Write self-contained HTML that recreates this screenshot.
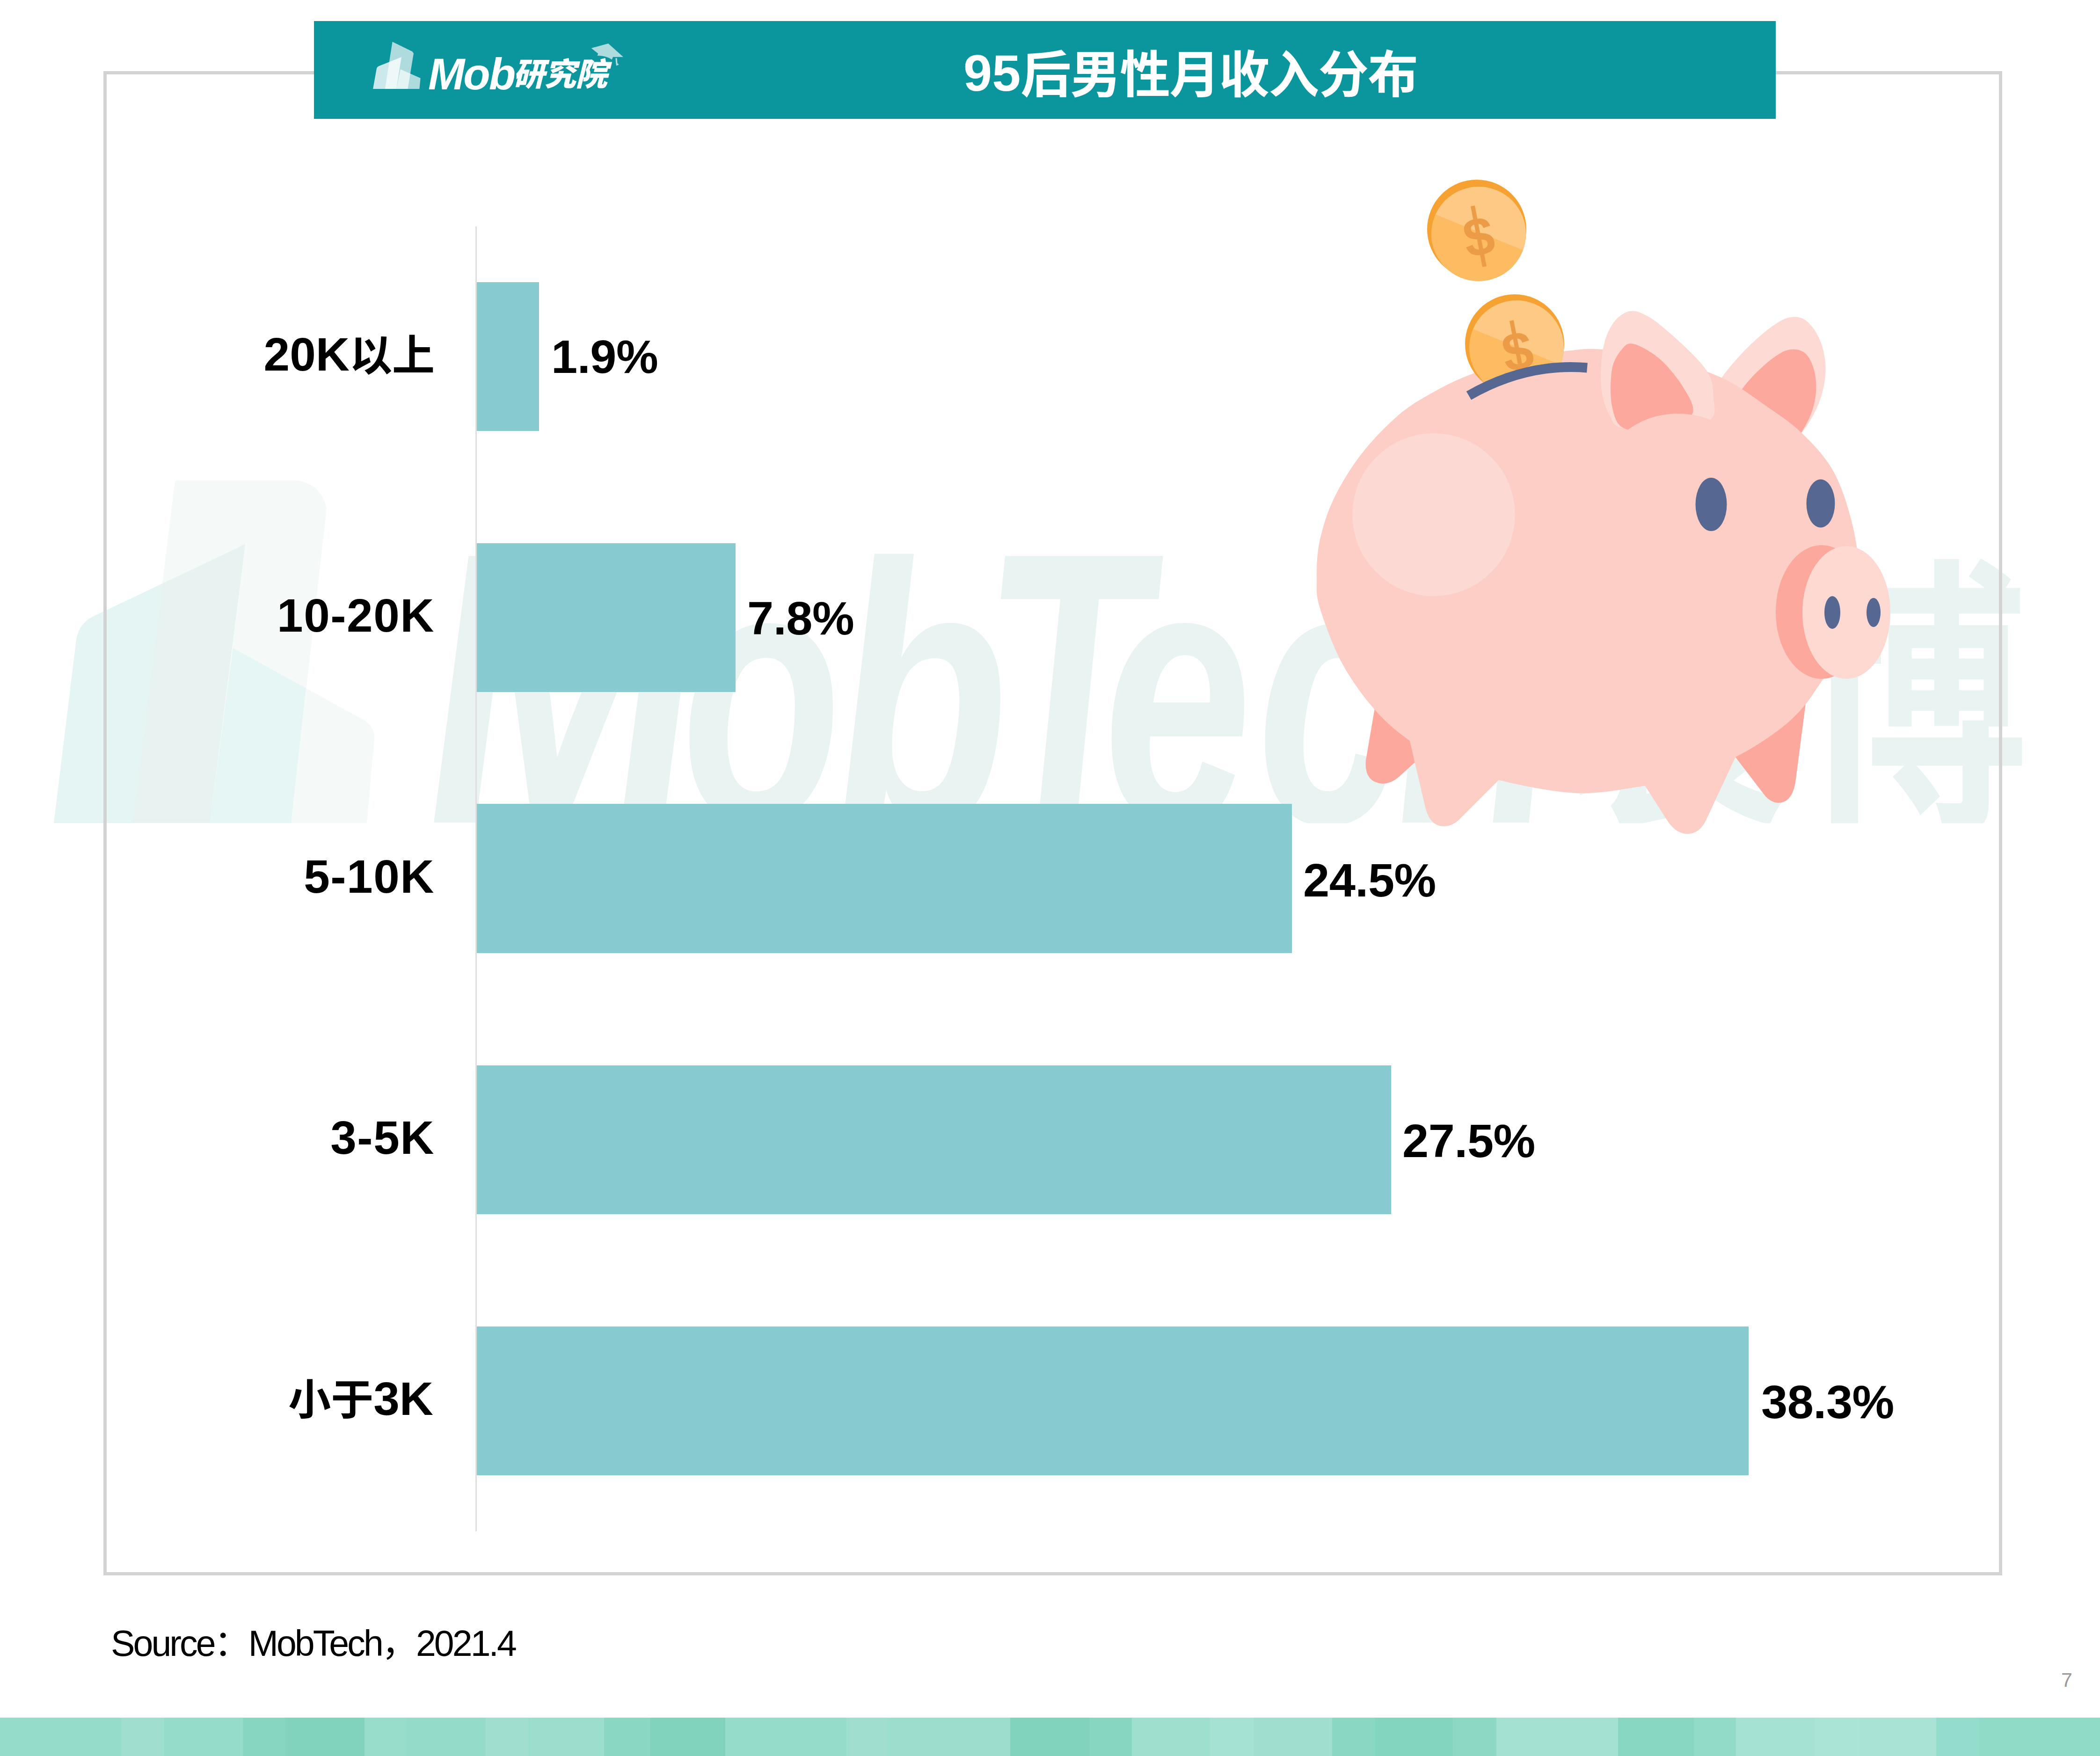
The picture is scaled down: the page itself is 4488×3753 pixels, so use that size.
<!DOCTYPE html>
<html lang="zh-CN">
<head>
<meta charset="utf-8">
<title>95后男性月收入分布</title>
<style>
html,body{margin:0;padding:0;background:#fff;}
body{width:4488px;height:3753px;}
#page{width:4488px;height:3753px;position:relative;overflow:hidden;background:#fff;font-family:"Liberation Sans","Noto Sans CJK SC",sans-serif;color:#000;}
.abs{position:absolute;}
svg{position:absolute;left:0;top:0;overflow:visible;}
#frame{left:221px;top:152px;width:4044px;height:3201px;border:7px solid #d2d2d2;}
#hdr{left:671px;top:45px;width:3124px;height:208.6px;background:#0a969c;}
#title{left:2059px;top:56px;height:208px;line-height:208px;font-size:108px;letter-spacing:-2px;font-weight:bold;color:#fff;white-space:nowrap;}
#title .n{font-size:110px;letter-spacing:0;position:relative;top:-4px;}
#axis{left:1016px;top:484px;width:3px;height:2789px;background:#dfdfdf;}
.bar{position:absolute;left:1019px;height:318px;background:#87cacf;}
.cat{position:absolute;right:3559px;white-space:nowrap;font-weight:bold;font-size:100px;line-height:100px;text-align:right;letter-spacing:1.5px;}
.cat .c{font-size:91px;}
.val{position:absolute;white-space:nowrap;font-weight:bold;font-size:101px;line-height:100px;letter-spacing:-0.5px;}
#src{left:237px;top:3467px;font-size:77px;line-height:90px;white-space:nowrap;letter-spacing:-3.9px;}
#pg{left:4405px;top:3566px;font-size:43px;line-height:48px;color:#9a9a9a;}
#band{left:0;top:3671px;width:4488px;height:82px;background:linear-gradient(90deg,#96dccb 0px,#96dccb 259px,#a0dfcf 259px,#a0dfcf 350px,#96dccb 350px,#96dccb 519px,#86d6c1 519px,#86d6c1 611px,#82d3bd 611px,#82d3bd 779px,#98dccc 779px,#98dccc 869px,#94dbca 869px,#94dbca 1038px,#a0dfcf 1038px,#a0dfcf 1129px,#9cdecd 1129px,#9cdecd 1291px,#8ad7c3 1291px,#8ad7c3 1389px,#82d3bd 1389px,#82d3bd 1550px,#96dccb 1550px,#96dccb 1809px,#a0dfcf 1809px,#a0dfcf 1900px,#9cdecd 1900px,#9cdecd 2159px,#82d3bd 2159px,#82d3bd 2329px,#86d6c1 2329px,#86d6c1 2419px,#9edfce 2419px,#9edfce 2586px,#a6e2d3 2586px,#a6e2d3 2679px,#a0dfd0 2679px,#a0dfd0 2847px,#8ad8c4 2847px,#8ad8c4 2938px,#84d5bf 2938px,#84d5bf 3105px,#8cd8c5 3105px,#8cd8c5 3198px,#a4e1d2 3198px,#a4e1d2 3458px,#88d7c3 3458px,#88d7c3 3620px,#92dbc9 3620px,#92dbc9 3710px,#a6e2d3 3710px,#a6e2d3 3877px,#aae4d6 3877px,#aae4d6 3972px,#a8e3d5 3972px,#a8e3d5 4138px,#94dccb 4138px,#94dccb 4229px,#90dac8 4229px,#90dac8 4488px);}
#mob{left:915px;top:104px;font-size:94px;line-height:110px;font-weight:bold;font-style:italic;color:#fff;letter-spacing:-3px;white-space:nowrap;}
#yjy{left:1096px;top:109px;font-size:68px;letter-spacing:-1px;line-height:100px;font-weight:900;font-style:italic;color:#fff;white-space:nowrap;font-family:"Liberation Sans","Noto Sans CJK SC",sans-serif;}
</style>
</head>
<body>
<div id="page">
<!-- watermark -->
<svg id="wm" width="4488" height="3753" viewBox="0 0 4488 3753">
<defs><clipPath id="wmclip"><rect x="100" y="1027" width="4230" height="732.5"/></clipPath></defs>
<g clip-path="url(#wmclip)">
<path d="M374 1027 L636 1027 Q688 1036 698 1088 L622 1759 L284 1759 Z" fill="#f5faf9"/>
<path d="M498 1385 L774 1537 Q802 1552 800 1580 L784 1759 L448 1759 Z" fill="#f5faf9"/>
<polygon points="498,1385 654,1471 622,1759 448,1759" fill="#e5f6f5"/>
<path d="M162 1375 Q165 1335 198 1318 L524 1163 L448 1759 L115 1759 Z" fill="#e5f5f4"/>
<polygon points="347,1248 524,1163 448,1759 284,1759" fill="#e8f2f1"/>
<text y="1758" fill="#e8f3f2" font-family="'Liberation Sans',sans-serif" font-weight="bold" font-style="italic" font-size="793" transform="translate(0,1758) skewX(2) translate(0,-1758)"><tspan x="915" font-size="828" textLength="585" lengthAdjust="spacingAndGlyphs">M</tspan><tspan x="1462" textLength="345" lengthAdjust="spacingAndGlyphs">o</tspan><tspan x="1790" textLength="375" lengthAdjust="spacingAndGlyphs">b</tspan><tspan x="2115" font-size="828" textLength="350" lengthAdjust="spacingAndGlyphs">T</tspan><tspan x="2364" textLength="320" lengthAdjust="spacingAndGlyphs">e</tspan><tspan x="2692" textLength="315" lengthAdjust="spacingAndGlyphs">c</tspan><tspan x="2987" textLength="345" lengthAdjust="spacingAndGlyphs">h</tspan></text>
<text y="1722" fill="#e8f3f2" font-family="'Noto Sans CJK SC',sans-serif" font-weight="bold" font-size="620"><tspan x="3335" textLength="490" lengthAdjust="spacingAndGlyphs">袤</tspan><tspan x="3845" textLength="490" lengthAdjust="spacingAndGlyphs">博</tspan></text>
</g>
</svg>

<div id="frame" class="abs"></div>
<div id="hdr" class="abs"></div>
<!-- logo -->
<svg id="logo" width="4488" height="300" viewBox="0 0 4488 300">
<polygon points="838.6,89.3 881,110 884,114 871.4,190 822.9,190" fill="#fff" fill-opacity="0.67"/>
<path d="M805 146 Q806 143 809 141.5 L857.9 122.1 L847.1 190 L797.1 190 Z" fill="#fff" fill-opacity="0.79"/>
<polygon points="855.7,147.9 898.6,167.1 896.4,190 847.1,190" fill="#fff" fill-opacity="0.67"/>
<path d="M1263.7 102.9 L1300 92.9 L1332 121.7 L1310 121.7 L1307.7 127.4 Q1294.3 118.6 1276.6 119.1 L1278.3 114.6 Z" fill="#fff" fill-opacity="0.67"/>
<polygon points="1315.4,124.3 1318.6,124.3 1319.4,134.6 1322.6,138.3 1317.1,140.6 1316,132.9" fill="#fff" fill-opacity="0.67"/>
</svg>
<div id="mob" class="abs">Mob</div>
<div id="yjy" class="abs">研究院</div>
<div id="title" class="abs"><span class="n">95</span>后男性月收入分布</div>

<div id="axis" class="abs"></div>
<div class="bar" style="top:603px;width:133px"></div>
<div class="bar" style="top:1161px;width:553px"></div>
<div class="bar" style="top:1718px;width:1742px;height:319px"></div>
<div class="bar" style="top:2277px;width:1954px"></div>
<div class="bar" style="top:2835px;width:2718px"></div>

<div class="cat" style="top:707px;letter-spacing:0">20K<span class="c">以上</span></div>
<div class="cat" style="top:1265px">10-20K</div>
<div class="cat" style="top:1823px">5-10K</div>
<div class="cat" style="top:2381px">3-5K</div>
<div class="cat" style="top:2939px;letter-spacing:0;right:3562px"><span class="c">小于</span>3K</div>

<div class="val" style="top:712px;left:1178px">1.9%</div>
<div class="val" style="top:1271px;left:1597px">7.8%</div>
<div class="val" style="top:1831px;left:2785px">24.5%</div>
<div class="val" style="top:2388px;left:2997px">27.5%</div>
<div class="val" style="top:2946px;left:3764px">38.3%</div>

<!-- piggy bank -->
<svg id="pig" width="4488" height="3753" viewBox="0 0 4488 3753">
<defs>
<clipPath id="coin2clip"><path d="M3100 600 L3420 600 L3420 786 Q3260 772 3139 845 L3100 870 Z"/></clipPath>
<clipPath id="c1face"><circle cx="3160" cy="500" r="101"/></clipPath>
<clipPath id="c2face"><circle cx="3241" cy="743" r="101"/></clipPath>
</defs>
<!-- coin 1 -->
<circle cx="3156" cy="490" r="106" fill="#f6a233"/>
<circle cx="3160" cy="500" r="101" fill="#fdbb62"/>
<g clip-path="url(#c1face)"><polygon points="3040,380 3280,380 3280,545 3060,455" fill="#fec885"/></g>
<g transform="rotate(-11 3160 505)" fill="#ec9c47"><text x="3160" y="546" font-family="'Liberation Sans',sans-serif" font-weight="bold" font-size="116" text-anchor="middle">$</text><rect x="3155.5" y="439" width="9" height="132"/></g>
<!-- back legs -->
<path d="M2942 1490 L2919 1625 Q2915 1672 2955 1675 Q2975 1674 2990 1660 L3045 1610 L3045 1490 Z" fill="#fca89c"/>
<path d="M3862 1480 L3838 1665 Q3832 1716 3800 1716 Q3782 1714 3770 1698 L3695 1600 Z" fill="#fca89c"/>
<!-- right ear (behind body) -->
<path d="M3672 818 C3700 775 3760 712 3805 686 C3822 676 3846 672 3863 688 C3890 712 3905 760 3901 802 C3897 850 3876 895 3845 932 L3760 900 Z" fill="#fddad3"/>
<path d="M3720 836 C3745 800 3785 765 3810 752 C3828 743 3849 745 3861 758 C3880 780 3884 820 3880 846 C3876 880 3862 906 3846 930 L3770 890 Z" fill="#fca89c"/>
<!-- body -->
<path d="M 3428.0 747.0 C 3463.3 750.0 3517.8 757.8 3560.0 768.0 C 3602.2 778.2 3645.2 791.3 3681.0 808.0 C 3716.8 824.7 3747.0 848.7 3775.0 868.0 C 3803.0 887.3 3825.8 902.0 3849.0 924.0 C 3872.2 946.0 3896.8 971.5 3914.0 1000.0 C 3931.2 1028.5 3942.3 1061.7 3952.0 1095.0 C 3961.7 1128.3 3969.0 1165.8 3972.0 1200.0 C 3975.0 1234.2 3975.0 1267.5 3970.0 1300.0 C 3965.0 1332.5 3954.2 1369.8 3942.0 1395.0 C 3929.8 1420.2 3911.7 1431.7 3897.0 1451.0 C 3882.3 1470.3 3870.3 1492.5 3854.0 1511.0 C 3837.7 1529.5 3823.2 1544.2 3799.0 1562.0 C 3774.8 1579.8 3742.2 1601.3 3709.0 1618.0 C 3675.8 1634.7 3632.8 1651.7 3600.0 1662.0 C 3567.2 1672.3 3550.5 1674.5 3512.0 1680.0 C 3473.5 1685.5 3420.7 1697.2 3369.0 1695.0 C 3317.3 1692.8 3246.8 1677.8 3202.0 1667.0 C 3157.2 1656.2 3130.8 1643.5 3100.0 1630.0 C 3069.2 1616.5 3043.7 1604.5 3017.0 1586.0 C 2990.3 1567.5 2964.7 1546.8 2940.0 1519.0 C 2915.3 1491.2 2888.8 1455.5 2869.0 1419.0 C 2849.2 1382.5 2830.2 1330.2 2821.0 1300.0 C 2811.8 1269.8 2814.2 1261.7 2814.0 1238.0 C 2813.8 1214.3 2814.0 1186.5 2820.0 1158.0 C 2826.0 1129.5 2835.2 1098.2 2850.0 1067.0 C 2864.8 1035.8 2885.8 1001.0 2909.0 971.0 C 2932.2 941.0 2962.3 909.7 2989.0 887.0 C 3015.7 864.3 3042.3 849.8 3069.0 835.0 C 3095.7 820.2 3118.8 809.2 3149.0 798.0 C 3179.2 786.8 3216.8 776.0 3250.0 768.0 C 3283.2 760.0 3318.3 753.5 3348.0 750.0 C 3377.7 746.5 3392.7 744.0 3428.0 747.0 Z" fill="#fdcec5"/>
<!-- front legs -->
<path d="M3005 1550 L3046 1725 Q3056 1766 3086 1766 Q3106 1765 3120 1750 L3225 1645 Z" fill="#fdcec5"/>
<path d="M3500 1655 L3566 1758 Q3585 1784 3610 1782 Q3632 1780 3645 1755 L3715 1605 Z" fill="#fdcec5"/>
<!-- highlight -->
<circle cx="3064" cy="1100" r="174" fill="#fdd9d3"/>
<!-- coin 2 -->
<g clip-path="url(#coin2clip)">
<circle cx="3237" cy="735" r="106" fill="#f6a233"/>
<circle cx="3241" cy="743" r="101" fill="#fdbb62"/>
<g clip-path="url(#c2face)"><polygon points="3120,620 3360,620 3360,790 3140,700" fill="#fec885"/></g>
<g transform="rotate(-11 3243 750)" fill="#ec9c47"><text x="3243" y="791" font-family="'Liberation Sans',sans-serif" font-weight="bold" font-size="116" text-anchor="middle">$</text><rect x="3238.5" y="684" width="9" height="132"/></g>
</g>
<!-- slot -->
<path d="M3139 845.5 Q3262 775 3392 786" fill="none" stroke="#566891" stroke-width="21"/>
<!-- left ear -->
<path d="M 3472.0 916.0 C 3445.5 909.3 3449.3 904.5 3441.0 890.0 C 3432.7 875.5 3424.5 853.2 3422.0 829.0 C 3419.5 804.8 3421.7 768.2 3426.0 745.0 C 3430.3 721.8 3438.5 703.3 3448.0 690.0 C 3457.5 676.7 3471.0 667.5 3483.0 665.0 C 3495.0 662.5 3506.7 668.0 3520.0 675.0 C 3533.3 682.0 3545.7 692.2 3563.0 707.0 C 3580.3 721.8 3608.7 747.5 3624.0 764.0 C 3639.3 780.5 3648.7 791.7 3655.0 806.0 C 3661.3 820.3 3661.3 835.5 3662.0 850.0 C 3662.7 864.5 3669.3 879.7 3659.0 893.0 C 3648.7 906.3 3631.2 926.2 3600.0 930.0 C 3568.8 933.8 3498.5 922.7 3472.0 916.0 Z" fill="#fddad3"/>
<path d="M 3472.0 916.0 C 3452.8 907.2 3449.5 888.0 3445.0 867.0 C 3440.5 846.0 3441.7 809.8 3445.0 790.0 C 3448.3 770.2 3457.3 757.2 3465.0 748.0 C 3472.7 738.8 3477.2 731.7 3491.0 735.0 C 3504.8 738.3 3530.2 752.3 3548.0 768.0 C 3565.8 783.7 3586.5 809.7 3598.0 829.0 C 3609.5 848.3 3623.3 868.8 3617.0 884.0 C 3610.7 899.2 3584.2 914.7 3560.0 920.0 C 3535.8 925.3 3491.2 924.8 3472.0 916.0 Z" fill="#fca89c"/>
<ellipse cx="3586" cy="1019" rx="160" ry="135" fill="#fdcec5"/>
<!-- eyes -->
<ellipse cx="3657" cy="1078" rx="33.5" ry="57" fill="#566891"/>
<ellipse cx="3891" cy="1076" rx="30.5" ry="51.5" fill="#566891"/>
<!-- snout -->
<ellipse cx="3893" cy="1308" rx="98" ry="143" fill="#fca89c"/>
<ellipse cx="3946" cy="1309" rx="94" ry="142" fill="#fdd9d2"/>
<ellipse cx="3916" cy="1309" rx="17" ry="35" fill="#566891"/>
<ellipse cx="4004" cy="1309" rx="15" ry="31" fill="#566891"/>
</svg>

<div id="src" class="abs">Source：MobTech，2021.4</div>
<div id="pg" class="abs">7</div>
<div id="band" class="abs"></div>
</div>
</body>
</html>
